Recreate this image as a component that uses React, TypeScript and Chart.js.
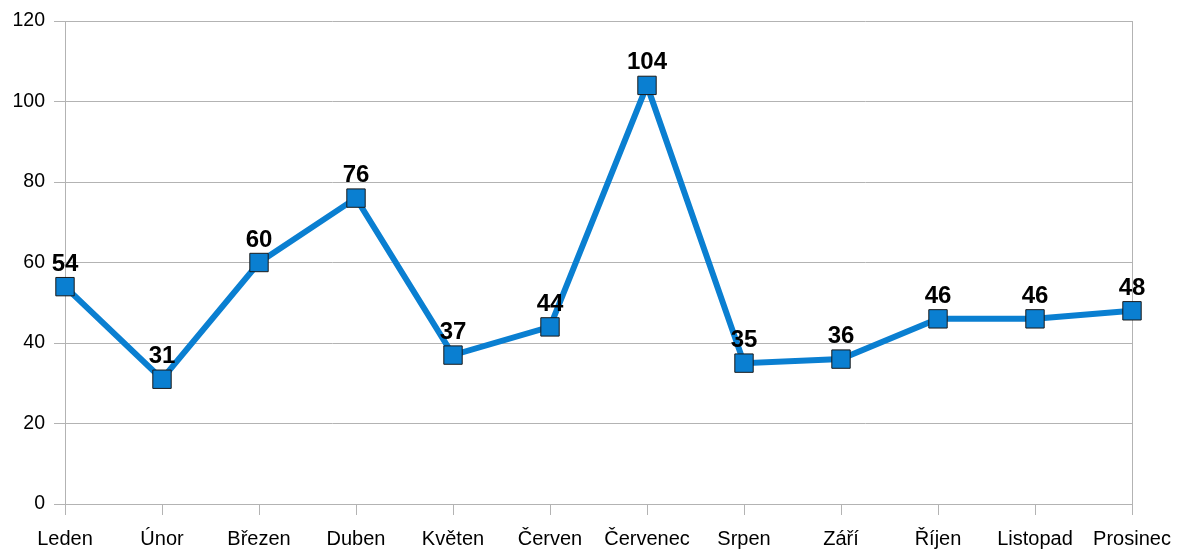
import React, { useEffect, useRef } from "react";
import { Chart, registerables } from "chart.js";

Chart.register(...registerables);

const months = ["Leden", "Únor", "Březen", "Duben", "Květen", "Červen", "Červenec", "Srpen", "Září", "Říjen", "Listopad", "Prosinec"];
const values = [54, 31, 60, 76, 37, 44, 104, 35, 36, 46, 46, 48];
const yTicks = [0, 20, 40, 60, 80, 100, 120];

const FONT = "'Liberation Sans', Arial, sans-serif";

const labelPlugin = {
  id: "valueLabels",
  afterDatasetsDraw(chart: any) {
    const ctx = chart.ctx;
    const meta = chart.getDatasetMeta(0);
    ctx.save();
    ctx.font = `bold 24px ${FONT}`;
    ctx.fillStyle = "#000";
    ctx.textAlign = "center";
    ctx.textBaseline = "alphabetic";
    meta.data.forEach((pt: any, i: number) => {
      ctx.fillText(String(values[i]), pt.x, pt.y - 16);
    });
    ctx.restore();
  },
};

const borderPlugin = {
  id: "rightBorder",
  beforeDatasetsDraw(chart: any) {
    const { ctx, chartArea } = chart;
    ctx.save();
    ctx.strokeStyle = "#b3b3b3";
    ctx.lineWidth = 1;
    ctx.beginPath();
    ctx.moveTo(Math.round(chartArea.right) + 0.5, chartArea.top);
    ctx.lineTo(Math.round(chartArea.right) + 0.5, chartArea.bottom + 11);
    ctx.stroke();
    ctx.restore();
  },
};

export default function App() {
  const ref = useRef<HTMLCanvasElement | null>(null);
  useEffect(() => {
    if (!ref.current) return;
    const chart = new Chart(ref.current, {
      type: "line",
      data: {
        labels: months,
        datasets: [
          {
            data: values,
            borderColor: "#0a7fd1",
            borderWidth: 6,
            backgroundColor: "#0a7fd1",
            pointStyle: "rect",
            pointRadius: 13,
            pointHoverRadius: 13,
            pointBackgroundColor: "#0a7fd1",
            pointBorderColor: "#1a1a1a",
            pointBorderWidth: 1,
            tension: 0,
          },
        ],
      },
      options: {
        animation: false,
        responsive: false,
        layout: { padding: { top: 21, right: 45, bottom: 0, left: 0 } },
        plugins: { legend: { display: false }, tooltip: { enabled: false } },
        scales: {
          x: {
            offset: false,
            grid: { display: true, drawOnChartArea: false, color: "#b3b3b3", tickLength: 11 },
            border: { display: true, color: "#b3b3b3" },
            ticks: { color: "#000", font: { family: FONT, size: 20 }, padding: 12, maxRotation: 0, autoSkip: false },
            afterFit(scale: any) {
              scale.height = 46;
              scale.paddingLeft = 0;
              scale.paddingRight = 0;
            },
          },
          y: {
            min: 0,
            max: 120,
            afterBuildTicks(scale: any) {
              scale.ticks = yTicks.map((v) => ({ value: v }));
            },
            grid: { color: "#b3b3b3", tickLength: 11 },
            border: { display: true, color: "#b3b3b3" },
            ticks: { color: "#000", font: { family: FONT, size: 19.5 }, padding: 9 },
            afterFit(scale: any) {
              scale.width = 65;
              scale.paddingTop = 0;
              scale.paddingBottom = 0;
            },
          },
        },
      },
      plugins: [labelPlugin, borderPlugin],
    });
    return () => chart.destroy();
  }, []);
  return (
    <div style={{ position: "fixed", left: 0, top: 0, width: 1177, height: 550, background: "#fff" }}>
      <canvas ref={ref} width={1177} height={550} style={{ width: 1177, height: 550 }} />
    </div>
  );
}
